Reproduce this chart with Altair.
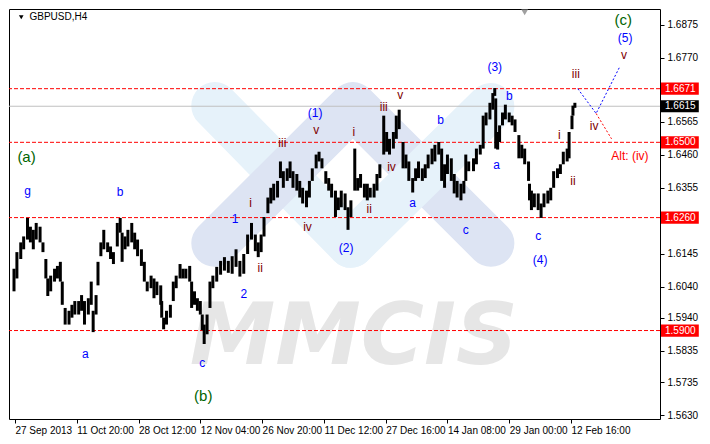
import altair as alt
import pandas as pd

# ---------------- data ----------------
bar_index = [0, 3, 7, 10, 14, 17, 20, 23, 27, 30, 33, 35, 38, 42, 45, 48, 50, 53, 57, 60,
             63, 67, 70, 73, 77, 80, 82, 85, 87, 90, 93, 97, 100, 103, 107, 110, 112, 115, 118, 122,
             125, 128, 132, 135, 138, 142, 145, 148, 152, 153, 155, 158, 162, 165, 168, 172, 175, 178, 182, 184,
             187, 190, 193, 195, 197, 200, 203, 206, 210, 214, 218, 222, 226, 230, 234, 238, 242, 246, 250, 253,
             256, 259, 263, 266, 269, 273, 276, 279, 283, 286, 289, 293, 296, 299, 303, 306, 309, 313, 316, 319,
             323, 326, 329, 333, 336, 339, 343, 346, 349, 353, 356, 359, 363, 366, 369, 373, 376, 379, 383, 386,
             389, 393, 396, 399, 403, 406, 409, 413, 416, 419, 423, 426, 429, 433, 436, 440, 443, 446, 449, 453,
             456, 459, 463, 466, 468, 471, 476, 479, 483, 486, 489, 493, 496, 498, 499, 501, 503, 506, 509, 513,
             516, 519, 523, 526, 529, 533, 534, 536, 539, 543, 546, 549, 553, 556, 559, 563, 566, 569, 573, 575,
             578, 579, 581]
bar_high = [1.6097, 1.6150, 1.6181, 1.6200, 1.6259, 1.6231, 1.6221, 1.6243, 1.6231, 1.6181, 1.6128, 1.6066, 1.6075, 1.6097, 1.6106, 1.6119, 1.6056, 1.5972, 1.5963, 1.5982,
            1.5994, 1.5994, 1.6013, 1.5994, 1.6003, 1.6056, 1.5963, 1.6013, 1.6119, 1.6181, 1.6221, 1.6181, 1.6168, 1.6150, 1.6243, 1.6259, 1.6212, 1.6200, 1.6221, 1.6243,
            1.6212, 1.6190, 1.6159, 1.6119, 1.6056, 1.6075, 1.6066, 1.6056, 1.6044, 1.5994, 1.5941, 1.5963, 1.5982, 1.6056, 1.6075, 1.6112, 1.6097, 1.6097, 1.6106, 1.6056,
            1.6025, 1.6003, 1.5994, 1.5951, 1.5919, 1.5951, 1.6056, 1.6075, 1.6103, 1.6122, 1.6134, 1.6122, 1.6137, 1.6159, 1.6122, 1.6144, 1.6206, 1.6243, 1.6206, 1.6181,
            1.6206, 1.6262, 1.6324, 1.6355, 1.6368, 1.6377, 1.6439, 1.6408, 1.6417, 1.6439, 1.6408, 1.6399, 1.6377, 1.6355, 1.6346, 1.6377, 1.6417, 1.6461, 1.6470, 1.6449,
            1.6408, 1.6386, 1.6368, 1.6346, 1.6324, 1.6346, 1.6337, 1.6293, 1.6315, 1.6480, 1.6386, 1.6399, 1.6368, 1.6368, 1.6355, 1.6368, 1.6399, 1.6430, 1.6585, 1.6533,
            1.6511, 1.6533, 1.6585, 1.6604, 1.6501, 1.6461, 1.6439, 1.6386, 1.6417, 1.6439, 1.6417, 1.6430, 1.6461, 1.6480, 1.6492, 1.6501, 1.6480, 1.6430, 1.6461, 1.6449,
            1.6399, 1.6377, 1.6368, 1.6377, 1.6461, 1.6439, 1.6449, 1.6480, 1.6492, 1.6585, 1.6595, 1.6626, 1.6657, 1.6673, 1.6640, 1.6533, 1.6554, 1.6595, 1.6620, 1.6595,
            1.6585, 1.6573, 1.6523, 1.6492, 1.6480, 1.6439, 1.6368, 1.6346, 1.6337, 1.6337, 1.6305, 1.6337, 1.6346, 1.6355, 1.6408, 1.6417, 1.6430, 1.6470, 1.6480, 1.6533,
            1.6585, 1.6617, 1.6626]
bar_low = [1.6025, 1.6066, 1.6128, 1.6159, 1.6190, 1.6181, 1.6159, 1.6190, 1.6181, 1.6150, 1.6066, 1.6010, 1.6025, 1.6056, 1.6066, 1.6056, 1.5982, 1.5919, 1.5919, 1.5941,
           1.5951, 1.5951, 1.5963, 1.5919, 1.5951, 1.5982, 1.5895, 1.5951, 1.6044, 1.6137, 1.6159, 1.6150, 1.6128, 1.6112, 1.6168, 1.6212, 1.6119, 1.6159, 1.6168, 1.6181,
           1.6159, 1.6137, 1.6106, 1.6056, 1.6025, 1.6035, 1.6003, 1.6013, 1.5982, 1.5941, 1.5904, 1.5919, 1.5941, 1.5994, 1.6035, 1.6066, 1.6066, 1.6066, 1.6056, 1.5972,
           1.5982, 1.5963, 1.5951, 1.5901, 1.5857, 1.5888, 1.5972, 1.6035, 1.6056, 1.6078, 1.6091, 1.6084, 1.6081, 1.6103, 1.6072, 1.6081, 1.6144, 1.6190, 1.6153, 1.6134,
           1.6150, 1.6200, 1.6274, 1.6305, 1.6315, 1.6324, 1.6386, 1.6355, 1.6377, 1.6386, 1.6355, 1.6346, 1.6324, 1.6305, 1.6293, 1.6324, 1.6377, 1.6417, 1.6439, 1.6417,
           1.6368, 1.6346, 1.6324, 1.6262, 1.6284, 1.6293, 1.6284, 1.6221, 1.6262, 1.6346, 1.6346, 1.6355, 1.6324, 1.6315, 1.6324, 1.6324, 1.6346, 1.6386, 1.6461, 1.6470,
           1.6461, 1.6480, 1.6511, 1.6542, 1.6417, 1.6417, 1.6377, 1.6340, 1.6377, 1.6386, 1.6377, 1.6386, 1.6417, 1.6430, 1.6439, 1.6461, 1.6377, 1.6355, 1.6399, 1.6377,
           1.6337, 1.6324, 1.6315, 1.6337, 1.6377, 1.6408, 1.6408, 1.6430, 1.6461, 1.6480, 1.6554, 1.6573, 1.6604, 1.6648, 1.6480, 1.6477, 1.6501, 1.6554, 1.6573, 1.6564,
           1.6554, 1.6533, 1.6449, 1.6449, 1.6430, 1.6377, 1.6315, 1.6284, 1.6293, 1.6284, 1.6259, 1.6293, 1.6305, 1.6315, 1.6355, 1.6386, 1.6399, 1.6430, 1.6439, 1.6449,
           1.6542, 1.6585, 1.6610]

tick_index = [1, 65, 129, 193, 257, 321, 385, 449, 513, 577]
tick_labels = ["27 Sep 2013", "11 Oct 20:00", "28 Oct 12:00", "12 Nov 04:00", "26 Nov 20:00",
               "11 Dec 12:00", "27 Dec 16:00", "14 Jan 08:00", "29 Jan 00:00", "12 Feb 16:00"]
price_ticks = [1.6875, 1.6770, 1.6565, 1.6460, 1.6355, 1.6145, 1.6040, 1.5940, 1.5835, 1.5735, 1.5630]

level_values = [1.6671, 1.6500, 1.6260, 1.5900]
bid_value = [1.6615]

symbol_title = ["GBPUSD,H4"]
symbol_title_index = [16]
symbol_title_price = [1.6898]
symbol_menu_index = [7.5]
symbol_menu_price = [1.6899]

label_text = ["(a)", "g", "b", "a", "c", "(b)", "1", "2", "i", "ii",
              "iii", "iv", "v", "(1)", "(2)", "i", "ii", "iii", "iv", "v",
              "b", "a", "c", "(3)", "b", "a", "c", "(4)", "i", "ii",
              "iii", "iv", "v", "(5)", "(c)", "Alt: (iv)"]
label_index = [13, 14, 110, 74, 195, 196, 229, 238, 245, 255,
               278, 304, 313, 312, 344, 352, 368, 383, 391, 400,
               442, 413, 468, 498, 513, 500, 543, 545, 565, 579,
               582, 601, 632, 633, 631, 638]
label_price = [1.6452, 1.6346, 1.6343, 1.5826, 1.5798, 1.5692, 1.6256, 1.6016, 1.6308, 1.6100,
               1.6498, 1.6231, 1.6539, 1.6595, 1.6162, 1.6533, 1.6287, 1.6614, 1.6420, 1.6651,
               1.6570, 1.6305, 1.6221, 1.6741, 1.6648, 1.6427, 1.6200, 1.6125, 1.6523, 1.6377,
               1.6719, 1.6551, 1.6778, 1.6831, 1.6891, 1.6455]
label_degree = ["cycle", "minor", "minor", "minor", "minor", "cycle", "minor", "minor", "minute", "minute",
                "minute", "minute", "minute", "intermediate", "intermediate", "minute", "minute", "minute", "minute", "minute",
                "minor", "minor", "minor", "intermediate", "minor", "minor", "minor", "intermediate", "minute", "minute",
                "minute", "minute", "minute", "intermediate", "cycle", "alt"]

proj_main_index = [584, 603, 627]
proj_main_price = [1.6671, 1.6592, 1.6738]
proj_alt_index = [603, 619]
proj_alt_price = [1.6592, 1.6511]

# watermark (MMCIS logo) anchors in chart coordinates
wm_blue_a_index = [208, 349]
wm_blue_a_price = [1.6617, 1.6175]
wm_lav_index = [208, 351, 494]
wm_lav_price = [1.6178, 1.6617, 1.6178]
wm_blue_b_index = [349, 494]
wm_blue_b_price = [1.6175, 1.6614]
wm_text_index = [352]
wm_text_price = [1.5876]

shift_marker_index = [529]
shift_marker_price = [1.6914]

# ---------------- chart ----------------
W, H = 651, 410
xs = alt.Scale(domain=[0, 664], nice=False, zero=False)
ys = alt.Scale(domain=[1.5618, 1.6925], nice=False, zero=False)
LBL_FONT = "Liberation Sans"

x_expr = " : ".join(f"datum.value == {i} ? '{t}'" for i, t in zip(tick_index, tick_labels)) + " : ''"
x_axis = alt.Axis(values=tick_index, labelExpr=x_expr, labelAlign="left", labelPadding=2,
                  tickSize=4, labelFlush=False, labelOverlap=False, grid=False, domain=False,
                  title=None, zindex=2)
y_axis = alt.Axis(orient="right", values=price_ticks, format=".4f", tickSize=4, labelPadding=3,
                  labelOverlap=False, labelFlush=False, labelSeparation=0, grid=False, domain=False,
                  title=None, zindex=2)


def X():
    # every layer carries the same axis settings so the shared axis merges cleanly
    return alt.X("i:Q", scale=xs, axis=x_axis)


def Y(field="p"):
    return alt.Y(f"{field}:Q", scale=ys, axis=y_axis)


def df_line(idx, prices):
    return pd.DataFrame({"i": idx, "p": prices, "o": list(range(len(idx)))})


wm_a = alt.Chart(df_line(wm_blue_a_index, wm_blue_a_price)).mark_line(
    strokeWidth=47, strokeCap="round", strokeJoin="round", color="#e6f2fa"
).encode(x=X(), y=Y(), order="o:Q")
wm_l = alt.Chart(df_line(wm_lav_index, wm_lav_price)).mark_line(
    strokeWidth=47, strokeCap="round", strokeJoin="round", color="#dde4f3"
).encode(x=X(), y=Y(), order="o:Q")
wm_b = alt.Chart(df_line(wm_blue_b_index, wm_blue_b_price)).mark_line(
    strokeWidth=47, strokeCap="round", strokeJoin="round", color="#e6f2fa"
).encode(x=X(), y=Y(), order="o:Q")
wm_t = alt.Chart(pd.DataFrame({"i": wm_text_index, "p": wm_text_price, "t": ["MMCIS"]})).mark_text(
    font="DejaVu Sans", fontSize=86, fontWeight="bold", fontStyle="italic",
    color="#e6e6e6", baseline="middle", align="center"
).encode(x=X(), y=Y(), text="t:N")

bid = alt.Chart(pd.DataFrame({"p": bid_value})).mark_rule(color="#c0c0c0", strokeWidth=1).encode(y=Y())
levels = alt.Chart(pd.DataFrame({"p": level_values})).mark_rule(
    color="#ff0000", strokeWidth=1, strokeDash=[4, 2]
).encode(y=Y())

bars_df = pd.DataFrame({"i": bar_index, "p": bar_high, "lo": bar_low})
bars = alt.Chart(bars_df).mark_bar(width=3, color="black").encode(
    x=X(), y=Y(), y2="lo:Q"
)

proj_main = alt.Chart(df_line(proj_main_index, proj_main_price)).mark_line(
    color="#0000ff", strokeWidth=1, strokeDash=[2, 2]
).encode(x=X(), y=Y(), order="o:Q")
proj_alt = alt.Chart(df_line(proj_alt_index, proj_alt_price)).mark_line(
    color="#ff0000", strokeWidth=1, strokeDash=[2, 2]
).encode(x=X(), y=Y(), order="o:Q")

labels_df = pd.DataFrame({"i": label_index, "p": label_price, "t": label_text, "d": label_degree})
deg_color = alt.Color("d:N", scale=alt.Scale(domain=["cycle", "intermediate", "minor", "minute", "alt"],
                                             range=["#006400", "#0000ff", "#0000ff", "#800000", "#ff0000"]),
                      legend=None)
small_labels = alt.Chart(labels_df).transform_filter("datum.d != 'cycle'").mark_text(
    font=LBL_FONT, fontSize=12, baseline="middle", align="center"
).encode(x=X(), y=Y(), text="t:N", color=deg_color)
big_labels = alt.Chart(labels_df).transform_filter("datum.d == 'cycle'").mark_text(
    font=LBL_FONT, fontSize=15, baseline="middle", align="center"
).encode(x=X(), y=Y(), text="t:N", color=deg_color)

title_text = alt.Chart(pd.DataFrame({"i": symbol_title_index, "p": symbol_title_price, "t": symbol_title})).mark_text(
    font=LBL_FONT, fontSize=10, color="black", align="left", baseline="middle"
).encode(x=X(), y=Y(), text="t:N")
title_menu = alt.Chart(pd.DataFrame({"i": symbol_menu_index, "p": symbol_menu_price})).mark_point(
    shape="triangle-down", filled=True, size=22, color="black", opacity=1
).encode(x=X(), y=Y())

shift_marker = alt.Chart(pd.DataFrame({"i": shift_marker_index, "p": shift_marker_price})).mark_point(
    shape="triangle-down", filled=True, size=45, color="#a0a0a0", opacity=1
).encode(x=X(), y=Y())

box_df = pd.DataFrame({"p": level_values + bid_value,
                       "c": ["#ff0000"] * len(level_values) + ["#000000"] * len(bid_value)})
box_shape = "M0,-0.34L2.1,-0.34L2.1,0.34L0,0.34Z"
boxes = alt.Chart(box_df).mark_point(shape=box_shape, filled=True, size=1296, opacity=1, strokeWidth=0).encode(
    x=alt.value(W + 1), y=Y(), color=alt.Color("c:N", scale=None)
)
box_text = alt.Chart(box_df).mark_text(
    font=LBL_FONT, fontSize=10, color="white", align="left", baseline="middle", dx=4
).encode(x=alt.value(W + 1), y=Y(), text=alt.Text("p:Q", format=".4f"))

chart = alt.layer(
    wm_a, wm_l, wm_b, wm_t, bid, levels, bars, proj_main, proj_alt,
    small_labels, big_labels, title_text, title_menu, shift_marker, boxes, box_text
).properties(
    width=W, height=H,
    autosize=alt.AutoSizeParams(type="none"),
    padding={"left": 1, "top": 1, "right": 40, "bottom": 17},
    background="white",
).configure_view(
    stroke="black", strokeWidth=1
).configure_axis(
    labelFont=LBL_FONT, labelFontSize=10, labelColor="black", tickColor="black", tickWidth=1,
    labelOverlap=False
)

chart.save("out.html", embed_options={"renderer": "svg", "actions": False})
